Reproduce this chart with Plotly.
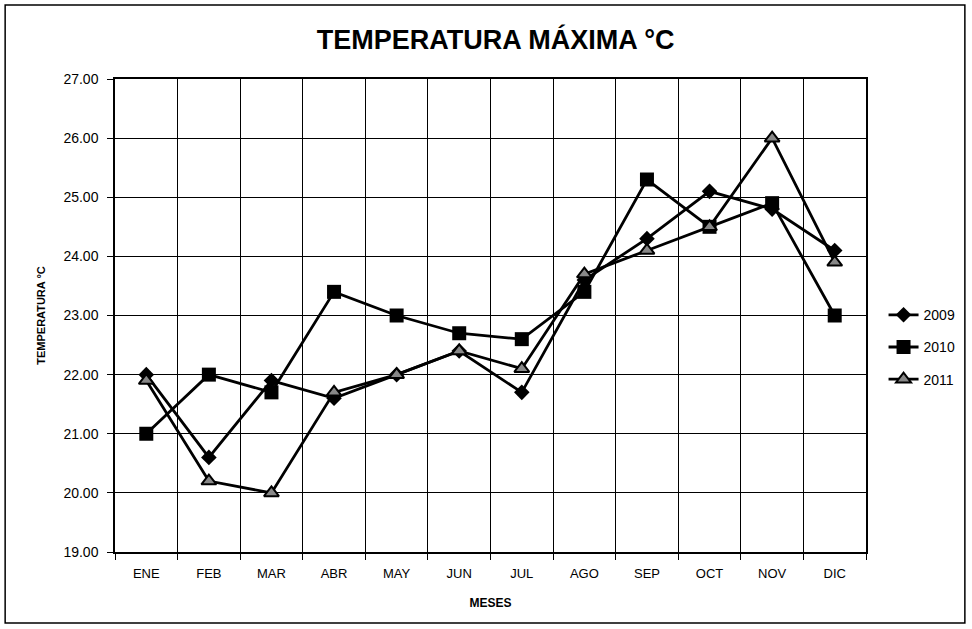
import plotly.graph_objects as go

meses = ["ENE", "FEB", "MAR", "ABR", "MAY", "JUN", "JUL", "AGO", "SEP", "OCT", "NOV", "DIC"]
t2009 = [22.0, 20.6, 21.9, 21.6, 22.0, 22.4, 21.7, 23.6, 24.3, 25.1, 24.8, 24.1]
t2010 = [21.0, 22.0, 21.7, 23.4, 23.0, 22.7, 22.6, 23.4, 25.3, 24.5, 24.9, 23.0]
t2011 = [21.9, 20.2, 20.0, 21.7, 22.0, 22.4, 22.1, 23.7, 24.1, 24.5, 26.0, 23.9]
y_ticks = [19, 20, 21, 22, 23, 24, 25, 26, 27]

FONT = "Liberation Sans Narrow, Arial Narrow, Liberation Sans, Arial, sans-serif"

fig = go.Figure()
fig.add_trace(go.Scatter(x=meses, y=t2009, name="2009", mode="lines+markers",
                         legendgroup="a",
                         line=dict(color="black", width=2.8),
                         marker=dict(symbol="diamond", size=12, color="black")))
fig.add_trace(go.Scatter(x=meses, y=t2010, name="2010", mode="lines+markers",
                         legendgroup="b",
                         line=dict(color="black", width=2.8),
                         marker=dict(symbol="square", size=14, color="black")))
fig.add_trace(go.Scatter(x=meses, y=t2011, name="2011", mode="lines+markers",
                         legendgroup="c",
                         line=dict(color="black", width=2.8),
                         marker=dict(symbol="triangle-up", size=13, color="#888888",
                                     line=dict(color="black", width=2))))

ML, MR, MT, MB = 115, 105, 79, 77
W, H = 972, 629
pw = W - ML - MR
ph = H - MT - MB

fig.update_layout(
    width=W, height=H,
    margin=dict(l=ML, r=MR, t=MT, b=MB),
    paper_bgcolor="white", plot_bgcolor="white",
    font=dict(family=FONT, color="black", size=12),
    title=dict(text="<b>TEMPERATURA MÁXIMA °C</b>", x=0.51, xanchor="center",
               y=1 - 40 / H, yanchor="middle",
               font=dict(family=FONT, size=27, color="black")),
    xaxis=dict(type="category", tickson="boundaries", range=[-0.5, 11.5],
               showgrid=True,
               gridcolor="black", gridwidth=1, showline=True, linecolor="black",
               linewidth=1.5, mirror=True, ticks="outside", ticklen=6,
               tickcolor="black", tickfont=dict(size=13), ticklabelstandoff=9,
               title=dict(text="<b>MESES</b>", font=dict(size=12), standoff=18)),
    yaxis=dict(range=[19, 27], tickvals=y_ticks,
               ticktext=[f"{v:.2f}" for v in y_ticks],
               showgrid=True, gridcolor="black", gridwidth=1, showline=True,
               linecolor="black", linewidth=1.5, mirror=True, ticks="outside",
               ticklen=6, tickcolor="black", tickfont=dict(size=14),
               ticklabelstandoff=6, zeroline=False,
               title=dict(text="<b>TEMPERATURA °C</b>", font=dict(size=11), standoff=16)),
    legend=dict(x=1.022, y=0.433, xanchor="left", yanchor="middle",
                font=dict(size=14), bgcolor="rgba(0,0,0,0)",
                tracegroupgap=11, itemwidth=30),
    showlegend=True,
)

# outer chart border
x0 = (5 - ML) / pw
x1 = (966 - ML) / pw
y0 = (H - MB - 623) / ph
y1 = (H - MB - 5) / ph
fig.add_shape(type="rect", xref="paper", yref="paper", x0=x0, x1=x1, y0=y0, y1=y1,
              line=dict(color="black", width=1.5), fillcolor="rgba(0,0,0,0)")

fig.write_html("out.html", config={"displayModeBar": False},
               post_script="document.body.style.margin='0';document.body.style.overflow='hidden';")
